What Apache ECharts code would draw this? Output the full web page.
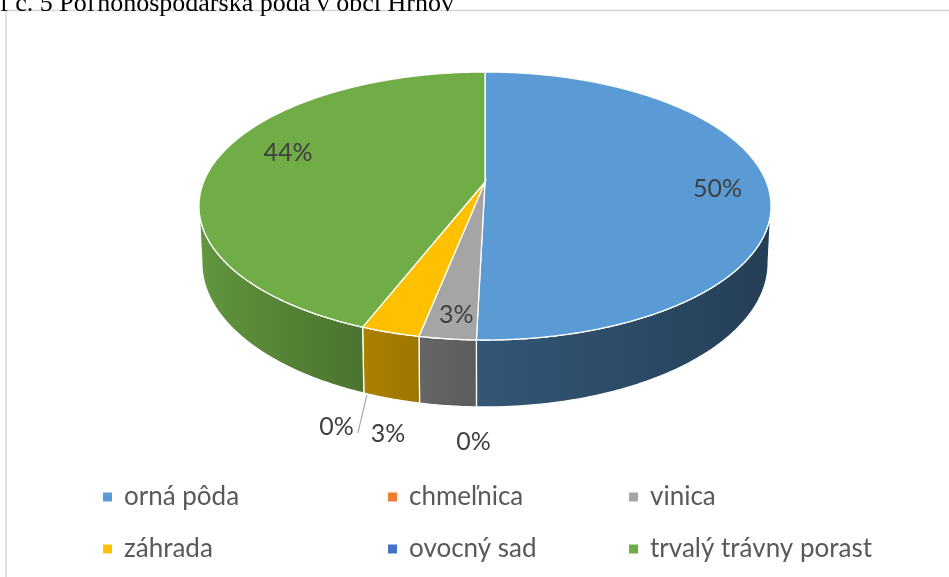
<!DOCTYPE html>
<html><head><meta charset="utf-8">
<script src="https://cdn.jsdelivr.net/npm/echarts@6/dist/echarts.min.js"></script>
<style>html,body{margin:0;padding:0;background:#fff}#c{width:949px;height:577px}</style>
</head><body><div id="c"></div>
<script>
// ---- data ----
const categories = ['orná pôda', 'chmeľnica', 'vinica', 'záhrada', 'ovocný sad', 'trvalý trávny porast'];
const shares = [50.4, 0, 2.7, 2.8, 0, 44.1];
const colors = ['#5b9bd5', '#ed7d31', '#a5a5a5', '#ffc000', '#4472c4', '#70ad47'];
const titleText = 'Graf č. 5 Poľnohospodárska pôda v obci Hrnov';

// ---- layout / style ----
const G = { cx: 485, vy: 182, a: 281.4, b: 129.7, k: 0.1791, shrink: 0.99, thick: 55 };
const labelLayout = [
  { mode: 'inside', dθ: 3.2, r: 0.82 },
  { mode: 'outside' },
  { mode: 'inside', dθ: -0.6, r: 0.87 },
  { mode: 'outside' },
  { mode: 'leader' },
  { mode: 'inside', dθ: 7, r: 0.765 }
];
const legendX = [103, 388, 629];
const legendY = [484, 536];
const LABEL_FONT = 'Lato';

const total = shares.reduce((s, v) => s + v, 0);
const startDeg = [];
let acc = 0;
shares.forEach(v => { startDeg.push(acc / total * 360); acc += v; });
const endDeg = startDeg.map((s, i) => s + shares[i] / total * 360);

function proj(deg, r, bottom) {
  const t = deg * Math.PI / 180;
  const u = r * Math.sin(t), v = r * Math.cos(t);
  const d = 1 + G.k * v;
  let x = G.cx + G.a * u / d, y = G.vy - G.b * v / d;
  if (bottom) { x = G.cx + (x - G.cx) * G.shrink; y += G.thick / d; }
  return [x, y];
}
function hexRgb(h) { return [1, 3, 5].map(p => parseInt(h.substr(p, 2), 16)); }
function shade(hex, f) {
  const c = hexRgb(hex).map(x => Math.max(0, Math.min(255, Math.round(x * f))));
  return 'rgb(' + c.join(',') + ')';
}
function sideFactor(deg) {
  const u = Math.sin(deg * Math.PI / 180);
  return u >= 0 ? 0.55 - 0.16 * u : 0.55 - 0.34 * u;
}
const visA = Math.acos(-G.k) * 180 / Math.PI;
const visB = 360 - visA;

function arcPts(a, b, r, bottom) {
  const n = Math.max(2, Math.ceil(Math.abs(b - a) / 0.5) + 1);
  const pts = [];
  for (let j = 0; j < n; j++) pts.push(proj(a + (b - a) * j / (n - 1), r, bottom));
  return pts;
}

function makeRender(i) {
  return function (params, api) {
    const children = [];
    const s = startDeg[i], e = endDeg[i];
    const color = colors[i];
    const a = Math.max(s, visA), b = Math.min(e, visB);
    if (b - a > 0.01) {
      const top = arcPts(a, b, 1, false);
      const bot = arcPts(a, b, 1, true).reverse();
      const pts = top.concat(bot);
      const xs = top.map(p => p[0]);
      const xmin = Math.min.apply(null, xs), xmax = Math.max.apply(null, xs);
      let fill = shade(color, sideFactor((a + b) / 2));
      if (xmax - xmin > 1) {
        const stops = [];
        const n = 12;
        for (let j = 0; j <= n; j++) {
          const dg = a + (b - a) * j / n;
          const x = proj(dg, 1, false)[0];
          stops.push({ offset: (x - xmin) / (xmax - xmin), color: shade(color, sideFactor(dg)) });
        }
        stops.sort((p, q) => p.offset - q.offset);
        fill = new echarts.graphic.LinearGradient(xmin, 0, xmax, 0, stops, true);
      }
      children.push({ type: 'polygon', shape: { points: pts }, style: { fill: fill, stroke: '#ffffff', lineWidth: 1.3 }, z2: 1 });
    }
    if (e - s > 0.01) {
      const pts = [[G.cx, G.vy]].concat(arcPts(s, e, 1, false));
      children.push({ type: 'polygon', shape: { points: pts }, style: { fill: color, stroke: '#ffffff', lineWidth: 1.3 }, z2: 2 });
    }
    const pct = Math.round(shares[i] / total * 100) + '%';
    const L = labelLayout[i];
    const mid = (s + e) / 2;
    const txtStyle = { text: pct, fill: '#404040', fontSize: 25, fontFamily: LABEL_FONT, verticalAlign: 'middle' };
    if (L.mode === 'inside') {
      const p = proj(mid + L.dθ, L.r, false);
      children.push({ type: 'text', style: Object.assign({ x: p[0], y: p[1], align: 'center' }, txtStyle), z2: 10 });
    } else if (L.mode === 'outside') {
      const p = proj(mid, 1, true);
      children.push({ type: 'text', style: Object.assign({ x: p[0] - 3, y: p[1] + 35, align: 'center' }, txtStyle), z2: 10 });
    } else {
      const p = proj(mid, 1, true);
      const x1 = p[0] + 3, y1 = p[1] + 2, x2 = p[0] - 6, y2 = p[1] + 40;
      children.push({ type: 'line', shape: { x1: x1, y1: y1, x2: x2, y2: y2 }, style: { stroke: '#a6a6a6', lineWidth: 1.2 }, z2: 9 });
      children.push({ type: 'text', style: Object.assign({ x: x2 - 4, y: y2 - 6, align: 'right' }, txtStyle), z2: 10 });
    }
    return { type: 'group', children: children };
  };
}

const chart = echarts.init(document.getElementById('c'), null, { renderer: 'canvas' });
chart.setOption({
  animation: false,
  backgroundColor: '#ffffff',
  color: colors,
  graphic: [
    { type: 'rect', shape: { x: 6, y: 10.5, width: 1000, height: 1000 }, style: { fill: 'none', stroke: '#d6d6d6', lineWidth: 1.5 }, z: 0 },
    { type: 'text', x: -39, y: 4, style: { text: titleText, fill: '#000000', fontSize: 26, fontFamily: 'Liberation Serif', verticalAlign: 'middle' }, z: 5 }
  ],
  legend: categories.map((name, i) => ({
    data: [name],
    left: legendX[i % 3],
    top: legendY[Math.floor(i / 3)],
    icon: 'rect', itemWidth: 9, itemHeight: 9, padding: 0,
    selectedMode: false,
    textStyle: { fontFamily: LABEL_FONT, fontSize: 26, color: '#595959', padding: [0, 0, 0, 7] }
  })),
  series: categories.map((name, i) => ({
    type: 'custom', name: name, coordinateSystem: 'none', silent: true,
    itemStyle: { color: colors[i] },
    data: [[shares[i]]],
    renderItem: makeRender(i)
  }))
});
</script></body></html>
